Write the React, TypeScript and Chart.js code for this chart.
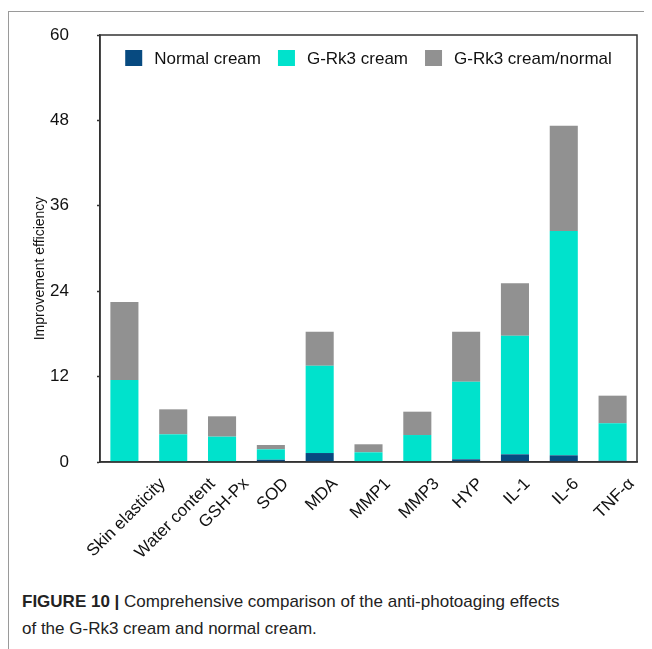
import React, { useEffect, useRef } from "react";
import { Chart, registerables } from "chart.js";

Chart.register(...registerables);

const categories = [
  "Skin elasticity",
  "Water content",
  "GSH-Px",
  "SOD",
  "MDA",
  "MMP1",
  "MMP3",
  "HYP",
  "IL-1",
  "IL-6",
  "TNF-α",
];
const normalCream = [0, 0, 0, 0.32, 1.26, 0, 0, 0.38, 1.08, 0.94, 0.18];
const grk3Cream = [11.52, 3.89, 3.56, 1.46, 12.27, 1.36, 3.79, 10.9, 16.67, 31.52, 5.26];
const grk3OverNormal = [10.96, 3.51, 2.86, 0.61, 4.78, 1.13, 3.28, 7.03, 7.35, 14.79, 3.88];
const seriesNames = ["Normal cream", "G-Rk3 cream", "G-Rk3 cream/normal"];
const seriesColors = ["#074a80", "#00e2cc", "#919191"];
const yTitle = "Improvement efficiency";
const yMin = 0;
const yMax = 60;
const yStep = 12;

const FONT = "'Liberation Sans', Arial, Helvetica, sans-serif";

const decorPlugin = {
  id: "decor",
  afterDraw(chart: any) {
    const { ctx, chartArea: a } = chart;
    const xs = chart.scales.x;
    ctx.save();
    // frame
    ctx.strokeStyle = "#333";
    ctx.lineWidth = 1.5;
    ctx.strokeRect(a.left, a.top, a.right - a.left, a.bottom - a.top);

    // legend inside the plot area, one row, centred
    ctx.font = `17px ${FONT}`;
    const boxW = 17;
    const boxH = 16;
    const textGap = 12;
    const itemGap = 17;
    const items = chart.data.datasets.map((d: any) => ({
      text: d.label,
      color: d.backgroundColor,
      w: ctx.measureText(d.label).width,
    }));
    const total =
      items.reduce((s: number, it: any) => s + boxW + textGap + it.w, 0) +
      itemGap * (items.length - 1);
    let lx = (a.left + a.right) / 2 - total / 2;
    const ly = a.top + 15;
    items.forEach((it: any) => {
      ctx.fillStyle = it.color;
      ctx.fillRect(lx, ly, boxW, boxH);
      ctx.fillStyle = "#111";
      ctx.textAlign = "left";
      ctx.textBaseline = "middle";
      ctx.fillText(it.text, lx + boxW + textGap, ly + boxH / 2 + 1);
      lx += boxW + textGap + it.w + itemGap;
    });

    // rotated category labels, centred on their ticks
    ctx.font = `17px ${FONT}`;
    ctx.fillStyle = "#111";
    const top = a.bottom + 15;
    categories.forEach((c, i) => {
      const x = xs.getPixelForValue(i) + 2;
      const w = ctx.measureText(c).width;
      const half = ((w + 12) * Math.SQRT1_2) / 2;
      ctx.save();
      ctx.translate(x, top + half);
      ctx.rotate(-Math.PI / 4);
      ctx.textAlign = "center";
      ctx.textBaseline = "middle";
      ctx.fillText(c, 0, 0);
      ctx.restore();
    });
    // y title
    ctx.font = `14px ${FONT}`;
    ctx.save();
    ctx.translate(32, (a.top + a.bottom) / 2 + 20);
    ctx.rotate(-Math.PI / 2);
    ctx.textAlign = "center";
    ctx.textBaseline = "middle";
    ctx.fillText(yTitle, 0, 0);
    ctx.restore();
    ctx.restore();
  },
};

function BarChart() {
  const ref = useRef<HTMLCanvasElement>(null);
  useEffect(() => {
    if (!ref.current) return;
    const values = [normalCream, grk3Cream, grk3OverNormal];
    const chart = new Chart(ref.current, {
      type: "bar",
      data: {
        labels: categories,
        datasets: values.map((v, i) => ({
          label: seriesNames[i],
          data: v,
          backgroundColor: seriesColors[i],
          borderWidth: 0,
          barPercentage: 0.575,
          categoryPercentage: 1,
        })),
      },
      options: {
        animation: false,
        responsive: true,
        maintainAspectRatio: false,
        layout: { padding: { left: 0, top: 27, right: 15, bottom: 18 } },
        plugins: {
          legend: { display: false },
          tooltip: { enabled: false },
          title: { display: false },
        },
        scales: {
          x: {
            stacked: true,
            grid: { display: false },
            border: { display: true, color: "#333", width: 1.5 },
            ticks: { display: false },
            afterFit(scale: any) {
              scale.height = 100;
            },
          },
          y: {
            stacked: true,
            min: yMin,
            max: yMax,
            grid: {
              drawOnChartArea: false,
              drawTicks: true,
              tickLength: 3,
              tickColor: "#333",
              tickWidth: 1.5,
            },
            border: { display: true, color: "#333", width: 1.5 },
            ticks: {
              stepSize: yStep,
              padding: 28,
              color: "#111",
              font: { family: FONT, size: 17 },
            },
            afterFit(scale: any) {
              scale.width = 92;
              scale.paddingTop = 10;
              scale.paddingBottom = 10;
            },
          },
        },
      },
      plugins: [decorPlugin],
    });
    return () => chart.destroy();
  }, []);
  return <canvas ref={ref} />;
}

export default function App() {
  return (
    <div style={{ position: "relative", width: 644, height: 641, fontFamily: FONT }}>
      <div style={{ position: "absolute", left: 0, top: 3, width: 644, height: 1, background: "#9a9a9a" }} />
      <div style={{ position: "absolute", left: 0, top: 3, width: 1, height: 638, background: "#9a9a9a" }} />
      <div style={{ position: "absolute", left: 0, top: 0, width: 644, height: 572 }}>
        <BarChart />
      </div>
      <div
        style={{
          position: "absolute",
          left: 14,
          top: 580,
          fontSize: 17,
          lineHeight: "27px",
          color: "#222",
          whiteSpace: "nowrap",
        }}
      >
        <b>FIGURE 10 |</b> Comprehensive comparison of the anti-photoaging effects
        <br />
        of the G-Rk3 cream and normal cream.
      </div>
    </div>
  );
}
